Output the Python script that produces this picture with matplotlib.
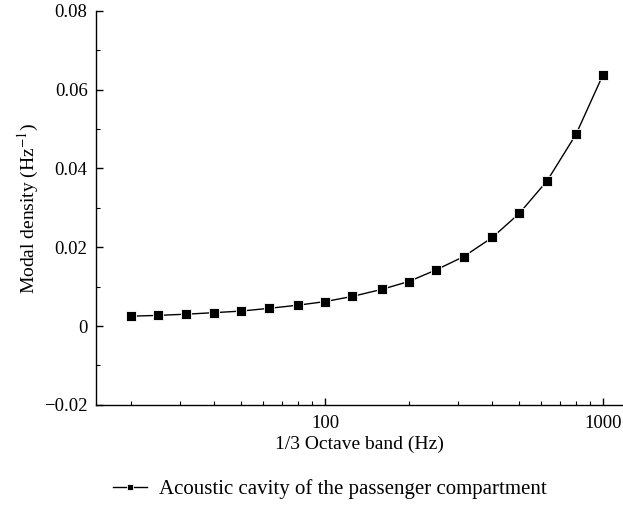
import matplotlib
matplotlib.use('Agg')
import matplotlib.pyplot as plt
from matplotlib.ticker import MultipleLocator, LogLocator, NullFormatter, FixedLocator, FixedFormatter

plt.rcParams['font.family'] = ['Liberation Serif', 'DejaVu Serif']
plt.rcParams['mathtext.fontset'] = 'stix'

# 1/3 octave band centre frequencies (Hz)
freqs = [20, 25, 31.5, 40, 50, 63, 80, 100, 125, 160, 200, 250, 315, 400, 500, 630, 800, 1000]
# modal density (1/Hz)
density = [0.0025, 0.0027, 0.0030, 0.0034, 0.0038, 0.0045, 0.0053, 0.0062, 0.0075, 0.0093,
           0.0113, 0.0142, 0.0176, 0.0225, 0.0286, 0.0369, 0.0487, 0.0638]
series_label = 'Acoustic cavity of the passenger compartment'

fig = plt.figure(figsize=(6.23, 5.19), dpi=100)
ax = fig.add_axes([0.154, 0.22, 0.846, 0.759])

ax.plot(freqs, density, '-s', color='black', lw=1.0, ms=6.5,
        mfc='black', mec='white', mew=0.6, label=series_label)

ax.set_xscale('log')
ax.set_xlim(15, 1180)
ax.set_ylim(-0.02, 0.08)

ax.xaxis.set_major_locator(FixedLocator([100, 1000]))
ax.xaxis.set_major_formatter(FixedFormatter(['100', '1000']))
ax.xaxis.set_minor_locator(LogLocator(base=10, subs=range(2, 10)))
ax.xaxis.set_minor_formatter(NullFormatter())

ax.yaxis.set_minor_locator(MultipleLocator(0.01))
ax.set_yticks([-0.02, 0, 0.02, 0.04, 0.06, 0.08])
ax.set_yticklabels(['\u22120.02', '0', '0.02', '0.04', '0.06', '0.08'])

for s in ['top', 'right']:
    ax.spines[s].set_visible(False)
for s in ['left', 'bottom']:
    ax.spines[s].set_linewidth(1.0)

ax.tick_params(which='major', direction='in', length=5, width=1, labelsize=13.5)
ax.tick_params(which='minor', direction='in', length=3, width=0.8)
ax.tick_params(axis='y', which='major', pad=6)
ax.tick_params(axis='x', which='major', pad=7)

ax.set_xlabel('1/3 Octave band (Hz)', fontsize=14, labelpad=3)
ax.set_ylabel('Modal density (Hz$^{-1}$)', fontsize=14, labelpad=2)

fig.legend(loc='center', bbox_to_anchor=(0.53, 0.057), frameon=False, fontsize=15,
           handlelength=1.6, handletextpad=0.6, markerscale=0.6)

fig.savefig('out.png', dpi=100)
